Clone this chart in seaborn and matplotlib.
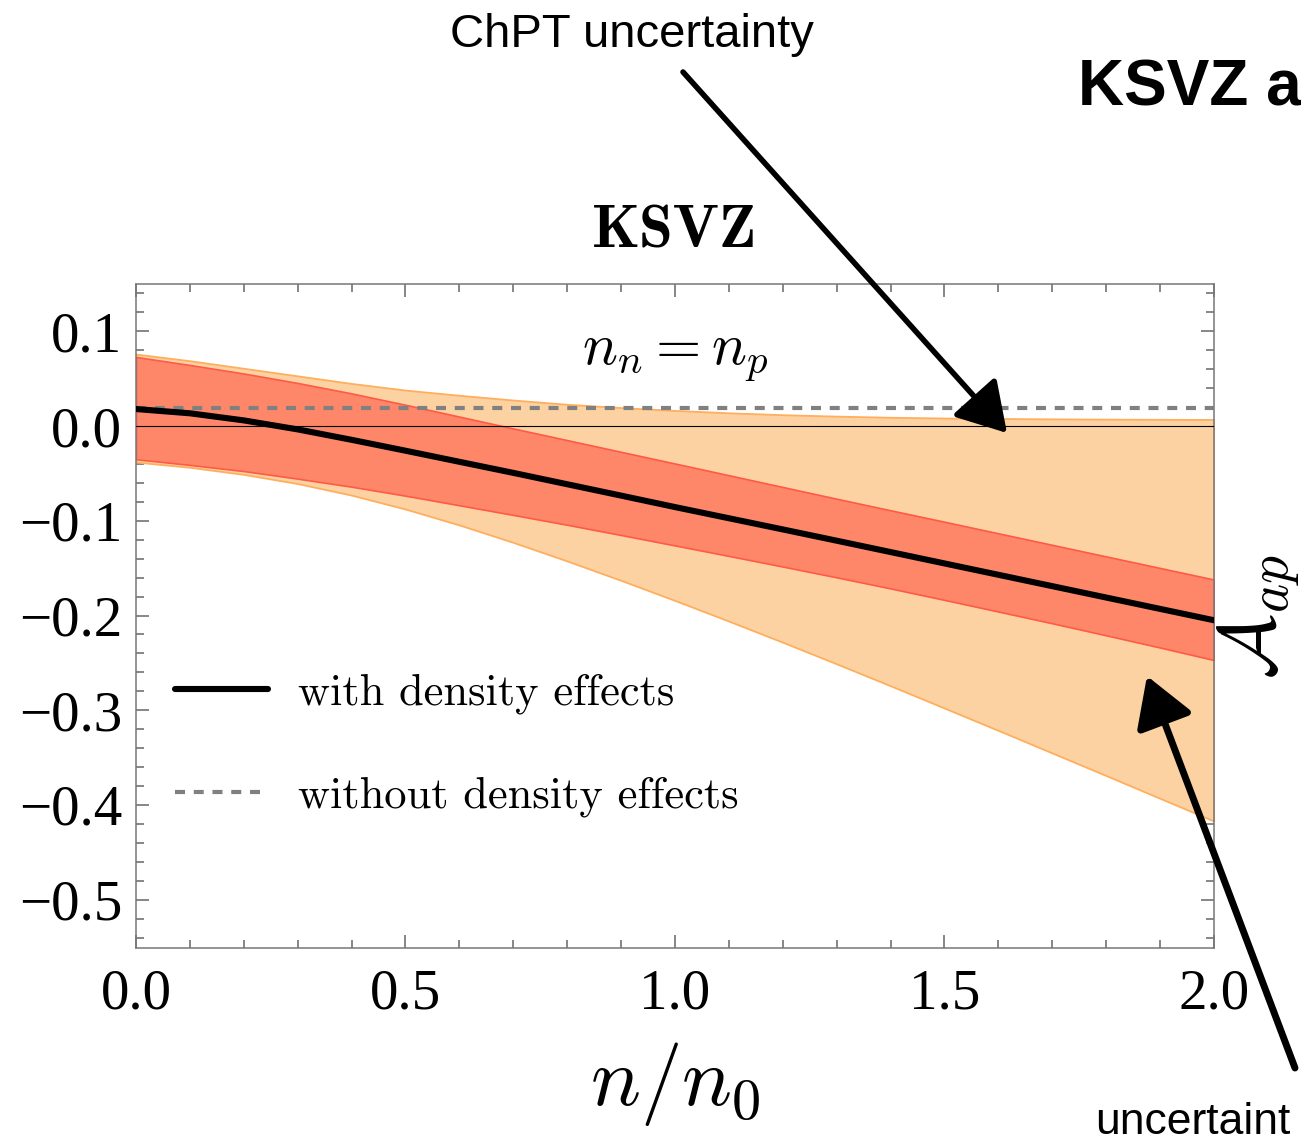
import numpy as np
import pandas as pd
import matplotlib
matplotlib.use("Agg")
import matplotlib.pyplot as plt
import seaborn as sns
from matplotlib.ticker import MultipleLocator, FuncFormatter
from matplotlib.patches import FancyArrowPatch

# ---- data ----
density = [0.0, 0.1, 0.2, 0.3, 0.4, 0.5, 0.6, 0.7, 0.8, 0.9, 1.0,
           1.1, 1.2, 1.3, 1.4, 1.5, 1.6, 1.7, 1.8, 1.9, 2.0]
with_density = [0.018, 0.0135, 0.006, -0.0035, -0.0145, -0.026, -0.0377, -0.0494,
                -0.0614, -0.0734, -0.0855, -0.0973, -0.1091, -0.121, -0.133,
                -0.145, -0.157, -0.169, -0.181, -0.193, -0.205]
without_density = [0.019, 0.019, 0.019, 0.019, 0.019, 0.019, 0.019, 0.019,
                   0.019, 0.019, 0.019, 0.019, 0.019, 0.019, 0.019, 0.019,
                   0.019, 0.019, 0.019, 0.019, 0.019]
inner_upper = [0.073, 0.0645, 0.0555, 0.0455, 0.0345, 0.0225, 0.010, -0.0025,
               -0.0148, -0.0272, -0.0395, -0.0519, -0.0643, -0.0767, -0.0889,
               -0.101, -0.1132, -0.1254, -0.1376, -0.1498, -0.162]
inner_lower = [-0.035, -0.041, -0.0475, -0.0555, -0.064, -0.0735, -0.0836, -0.0938,
               -0.1042, -0.115, -0.126, -0.1371, -0.1483, -0.1597, -0.1714,
               -0.1835, -0.1958, -0.2082, -0.2209, -0.2338, -0.247]
outer_upper = [0.076, 0.069, 0.061, 0.053, 0.045, 0.038, 0.0325, 0.0275,
               0.023, 0.0195, 0.0165, 0.014, 0.012, 0.0105, 0.0093, 0.0085,
               0.008, 0.0076, 0.0073, 0.0071, 0.007]
outer_lower = [-0.038, -0.0435, -0.051, -0.0607, -0.0729, -0.0876, -0.1044, -0.1228,
               -0.1424, -0.1629, -0.1841, -0.2059, -0.2282, -0.251, -0.2742,
               -0.2977, -0.3213, -0.3451, -0.369, -0.393, -0.417]
x_ticks = [0.0, 0.5, 1.0, 1.5, 2.0]
y_ticks = [0.1, 0.0, -0.1, -0.2, -0.3, -0.4, -0.5]
label_with = "with density effects"
label_without = "without density effects"

df = pd.DataFrame({"n": density, "with": with_density, "without": without_density})

sns.set_theme(style="ticks")
plt.rcParams["font.family"] = ["Liberation Serif", "DejaVu Serif"]
plt.rcParams["mathtext.fontset"] = "cm"
plt.rcParams["axes.unicode_minus"] = True
for k in ["text.color", "axes.labelcolor", "xtick.labelcolor", "ytick.labelcolor"]:
    plt.rcParams[k] = "black"

W, H = 1301, 1141
fig = plt.figure(figsize=(W / 100, H / 100), dpi=100)
L, R, T, B = 136, 1214, 284, 948
ax = fig.add_axes([L / W, 1 - B / H, (R - L) / W, (B - T) / H])

# bands
ax.fill_between(density, outer_lower, outer_upper, facecolor="#FDD2A2",
                edgecolor="#FFAE5E", linewidth=1.3, zorder=1)
ax.fill_between(density, inner_lower, inner_upper, facecolor="#FF8769",
                edgecolor="#FF5A45", linewidth=1.2, zorder=2)
ax.axhline(0.0, color="black", linewidth=0.8, zorder=3)

sns.lineplot(data=df, x="n", y="without", ax=ax, color="#808080",
             linewidth=3.0, dashes=False, label=label_without, zorder=4)
sns.lineplot(data=df, x="n", y="with", ax=ax, color="black",
             linewidth=4.4, label=label_with, zorder=5)
lines = ax.get_lines()
dash_line = lines[-2]
dash_line.set_dashes((2.4, 2.1))
solid_line = lines[-1]

ax.set_xlim(0, 2)
ax.set_ylim(-0.551, 0.15)

# ticks
ax.set_xticks(x_ticks)
ax.set_yticks(y_ticks)
ax.xaxis.set_minor_locator(MultipleLocator(0.1))
ax.yaxis.set_minor_locator(MultipleLocator(0.02))
fmt = FuncFormatter(lambda v, p: ("%.1f" % v).replace("-", "\u2212"))
ax.xaxis.set_major_formatter(fmt)
ax.yaxis.set_major_formatter(fmt)
ax.tick_params(which="both", direction="in", top=True, right=True,
               color="#666666", width=1.1)
ax.tick_params(which="major", length=9.5, labelsize=41)
ax.tick_params(which="minor", length=5.5)
ax.tick_params(axis="x", which="major", pad=15)
ax.tick_params(axis="y", which="major", pad=10)
for s in ax.spines.values():
    s.set_color("#777777")
    s.set_linewidth(1.1)

# labels
ax.set_xlabel(r"$n/n_0$", fontsize=60, labelpad=14)
ax.yaxis.set_label_position("right")
ax.set_ylabel(r"$\mathcal{A}_{ap}$", fontsize=57, rotation=90, labelpad=1)
ax.set_title("KSVZ", fontfamily="cmb10", fontsize=44, pad=26)
ax.text(0.5, 0.878, r"$n_n = n_p$", transform=ax.transAxes, ha="center",
        va="baseline", fontsize=42)

leg = ax.legend(handles=[solid_line, dash_line], labels=[label_with, label_without],
                loc="upper left", bbox_to_anchor=(0.036, 0.413), frameon=False,
                prop={"family": "cmr10", "size": 32}, handlelength=2.1,
                handletextpad=0.68, labelspacing=1.4, borderpad=0, borderaxespad=0)

# annotations outside the axes
fig.text(632 / W, 1 - 35 / H, "ChPT uncertainty", family="Liberation Sans",
         fontsize=34, ha="center", va="center")
fig.text(1078 / W, 1 - 105 / H, "KSVZ a", family="Liberation Sans",
         fontweight="bold", fontsize=46, ha="left", va="baseline")
fig.text(1095 / W, 1 - 1122 / H, "uncertaint", family="Liberation Sans",
         fontsize=32, ha="left", va="center")

def fig_arrow(x0, y0, x1, y1, lw):
    a = FancyArrowPatch((x0 / W, 1 - y0 / H), (x1 / W, 1 - y1 / H),
                        transform=fig.transFigure,
                        arrowstyle="-|>,head_length=30,head_width=18",
                        mutation_scale=1, color="black", linewidth=lw,
                        shrinkA=0, shrinkB=0, zorder=10)
    fig.add_artist(a)

fig_arrow(683, 72, 1007, 433, 4.0)
fig_arrow(1295, 1068, 1147, 676, 5.0)

fig.savefig("out.png", dpi=100)
